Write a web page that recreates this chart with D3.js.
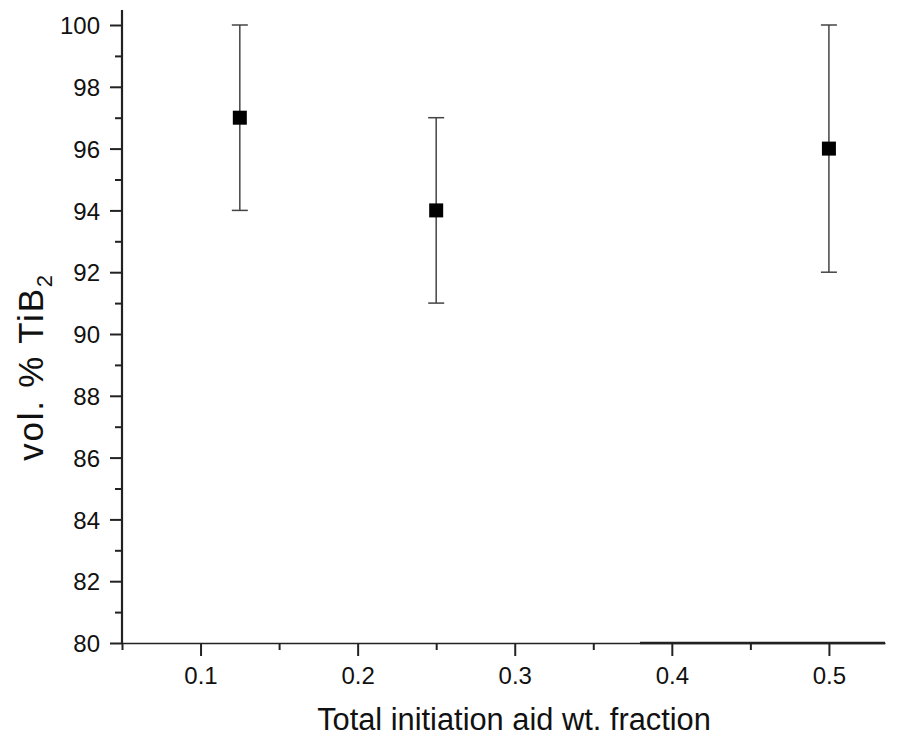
<!DOCTYPE html>
<html><head><meta charset="utf-8">
<script src="https://cdn.jsdelivr.net/npm/d3@7"></script>
<style>
html,body{margin:0;padding:0;background:#fff;}
text{font-family:"Liberation Sans",Arial,sans-serif;fill:#111;}
</style></head>
<body>
<script>
const xValues = [0.125, 0.25, 0.5];
const yValues = [97, 94, 96];
const yErrors = [3, 3, 4];
const xTickValues = [0.1, 0.2, 0.3, 0.4, 0.5];
const xMinorTicks = [0.05, 0.15, 0.25, 0.35, 0.45];
const yTickValues = [80, 82, 84, 86, 88, 90, 92, 94, 96, 98, 100];
const yMinorTicks = [81, 83, 85, 87, 89, 91, 93, 95, 97, 99];
const xTitle = "Total initiation aid wt. fraction";

const W = 901, H = 737;
const svg = d3.select("body").append("svg").attr("width", W).attr("height", H);

const x = d3.scaleLinear().domain([0.05, 0.5357]).range([122, 885]);
const y = d3.scaleLinear().domain([80, 100]).range([643, 25]);

// x axis
const gx = svg.append("g").attr("transform", `translate(0,${y(80)})`);
gx.call(d3.axisBottom(x).tickValues(xTickValues).tickSize(13).tickFormat(d3.format(".1f")).tickSizeOuter(0));
gx.append("g").call(d3.axisBottom(x).tickValues(xMinorTicks).tickSize(7).tickFormat("").tickSizeOuter(0));
gx.selectAll("g g path.domain").remove();
gx.selectAll("path.domain").attr("stroke", "#222").attr("stroke-width", 1.3);
gx.selectAll(".tick line").attr("stroke", "#222").attr("stroke-width", 2);
gx.selectAll(".tick text").attr("font-size", 24).attr("y", 41).attr("dy", 0).style("fill", "#111");
// darker segment of baseline (as in reference)
svg.append("line").attr("x1", 640).attr("x2", 885).attr("y1", y(80)).attr("y2", y(80))
  .attr("stroke", "#222").attr("stroke-width", 2.5);

// y axis
const gy = svg.append("g").attr("transform", `translate(${x(0.05)},0)`);
gy.call(d3.axisLeft(y).tickValues(yTickValues).tickSize(12).tickFormat(d3.format("d")).tickSizeOuter(0));
gy.append("g").call(d3.axisLeft(y).tickValues(yMinorTicks).tickSize(7).tickFormat("").tickSizeOuter(0));
gy.selectAll("g g path.domain").remove();
gy.selectAll(".tick line").attr("stroke", "#222").attr("stroke-width", 2);
gy.selectAll(".tick text").attr("font-size", 24).attr("x", -22).attr("dy", "0.36em").style("fill", "#111");
gy.select("path.domain").attr("d", `M0,${y(80)}V10`).attr("stroke", "#222").attr("stroke-width", 2.2);

// error bars
const pts = xValues.map((v, i) => ({x: v, y: yValues[i], e: yErrors[i]}));
const eb = svg.append("g");
eb.selectAll("line.v").data(pts).join("line")
  .attr("x1", d => x(d.x)).attr("x2", d => x(d.x))
  .attr("y1", d => y(d.y + d.e)).attr("y2", d => y(d.y - d.e))
  .attr("stroke", "#444").attr("stroke-width", 1.5);
[1, -1].forEach(s => {
  eb.selectAll("line.c" + s).data(pts).join("line")
    .attr("x1", d => x(d.x) - 8).attr("x2", d => x(d.x) + 8)
    .attr("y1", d => y(d.y + s * d.e)).attr("y2", d => y(d.y + s * d.e))
    .attr("stroke", "#444").attr("stroke-width", 1.5);
});
svg.append("g").selectAll("rect").data(pts).join("rect")
  .attr("x", d => x(d.x) - 7).attr("y", d => y(d.y) - 7)
  .attr("width", 14).attr("height", 14).attr("fill", "#000");

// titles
svg.append("text").attr("x", 514).attr("y", 730).attr("text-anchor", "middle")
  .attr("font-size", 30.8).text(xTitle);
const yt = svg.append("text").attr("transform", "translate(43,367) rotate(-90)")
  .attr("text-anchor", "middle").attr("font-size", 35).attr("letter-spacing", 1.8);
yt.append("tspan").text("vol. % TiB");
yt.append("tspan").attr("font-size", 22).attr("dy", 9).text("2");
</script>
</body></html>
